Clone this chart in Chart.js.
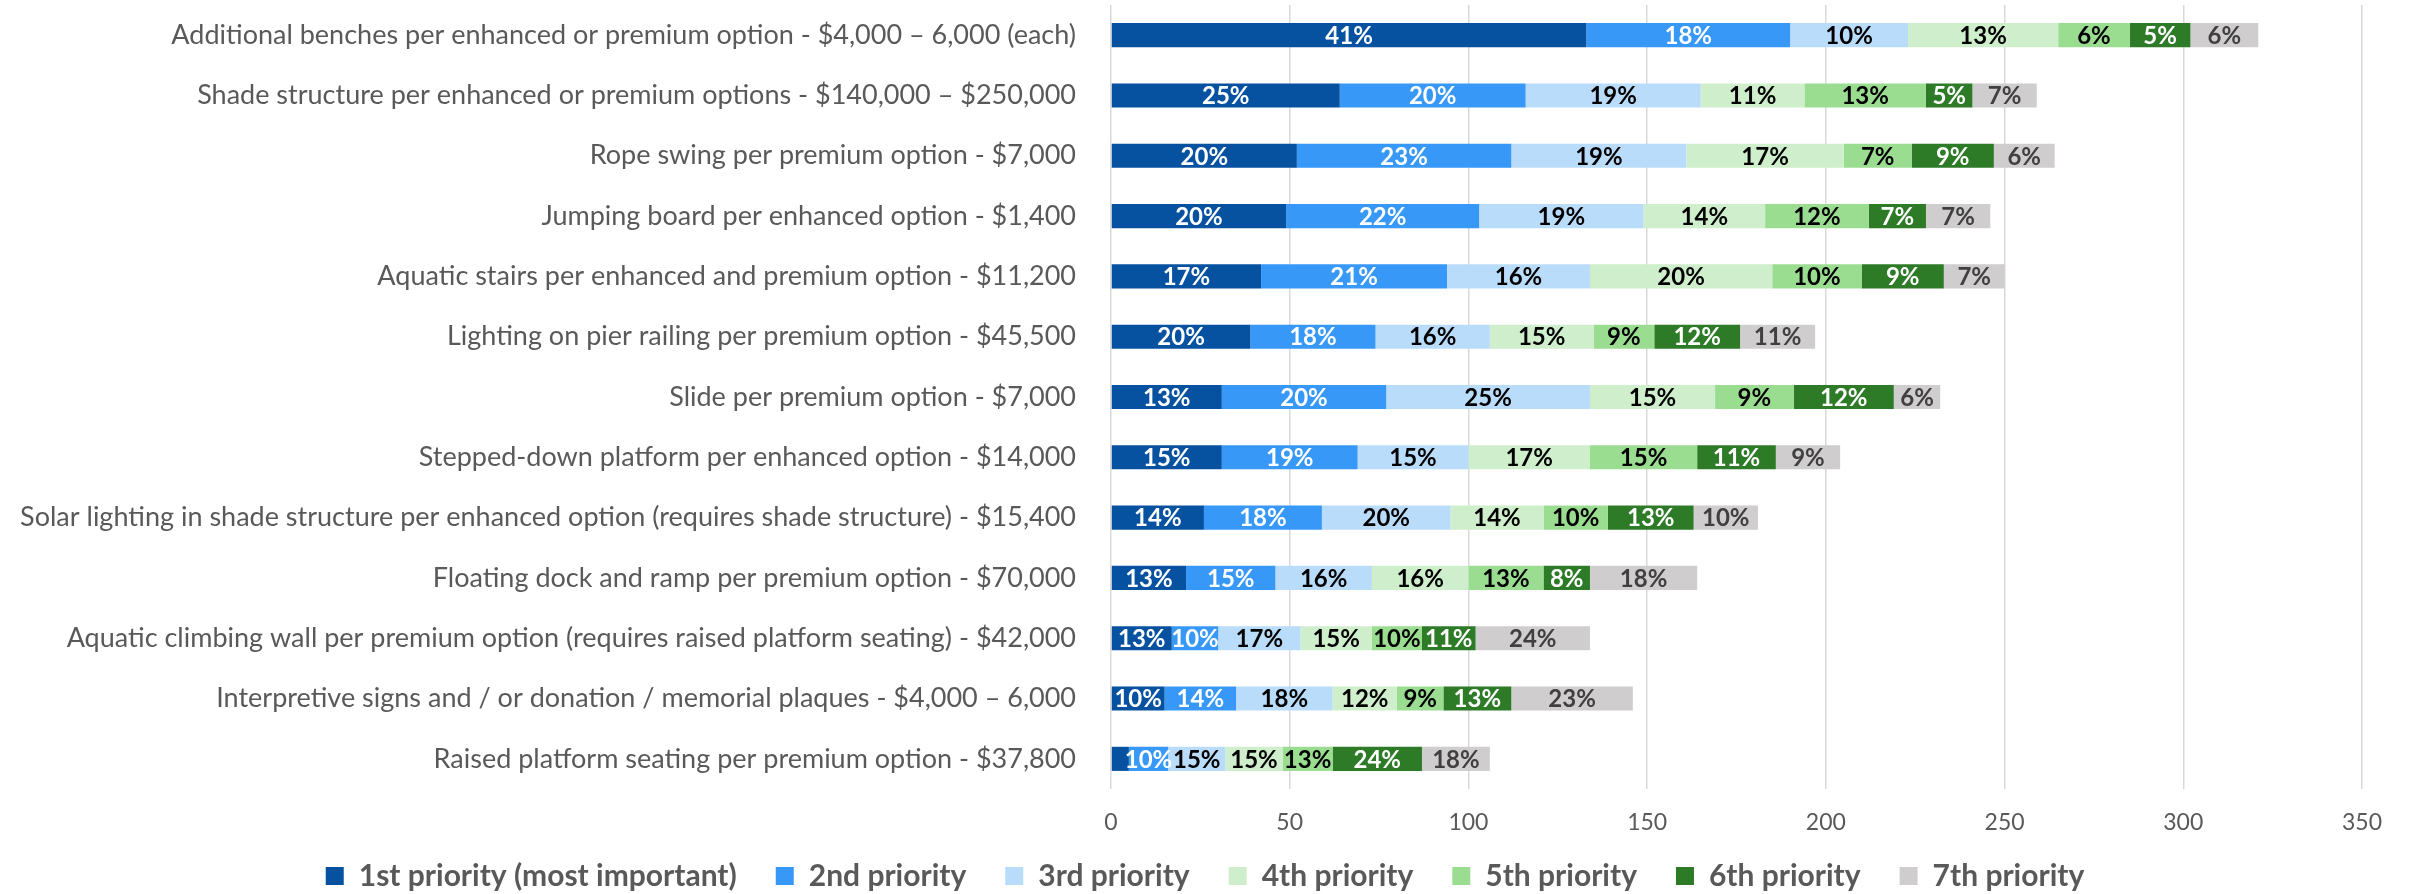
<!DOCTYPE html>
<html>
<head>
<meta charset="utf-8">
<script src="https://cdn.jsdelivr.net/npm/chart.js@4.4.1/dist/chart.umd.min.js"></script>
<style>
  html, body { margin: 0; padding: 0; background: #fff; }
  #wrap { width: 2410px; height: 894px; }
</style>
</head>
<body>
<div id="wrap"><canvas id="chart"></canvas></div>
<script>
// Options, top to bottom
const categories = [
    'Additional benches per enhanced or premium option - $4,000 \u2013 6,000 (each)',
    'Shade structure per enhanced or premium options - $140,000 \u2013 $250,000',
    'Rope swing per premium option - $7,000',
    'Jumping board per enhanced option - $1,400',
    'Aquatic stairs per enhanced and premium option - $11,200',
    'Lighting on pier railing per premium option - $45,500',
    'Slide per premium option - $7,000',
    'Stepped-down platform per enhanced option - $14,000',
    'Solar lighting in shade structure per enhanced option (requires shade structure) - $15,400',
    'Floating dock and ramp per premium option - $70,000',
    'Aquatic climbing wall per premium option (requires raised platform seating) - $42,000',
    'Interpretive signs and / or donation / memorial plaques - $4,000 \u2013 6,000',
    'Raised platform seating per premium option - $37,800'
];

// Number of responses per priority
const priority1 = [133, 64, 52, 49, 42, 39, 31, 31, 26, 21, 17, 15, 5];
const priority2 = [57, 52, 60, 54, 52, 35, 46, 38, 33, 25, 13, 20, 11];
const priority3 = [33, 49, 49, 46, 40, 32, 57, 31, 36, 27, 23, 27, 16];
const priority4 = [42, 29, 44, 34, 51, 29, 35, 34, 26, 27, 20, 18, 16];
const priority5 = [20, 34, 19, 29, 25, 17, 22, 30, 18, 21, 14, 13, 14];
const priority6 = [17, 13, 23, 16, 23, 24, 28, 22, 24, 13, 15, 19, 25];
const priority7 = [19, 18, 17, 18, 17, 21, 13, 18, 18, 30, 32, 34, 19];

const seriesNames = [
    '1st priority (most important)', '2nd priority', '3rd priority',
    '4th priority', '5th priority', '6th priority', '7th priority'
];
const xTicks = [0, 50, 100, 150, 200, 250, 300, 350];

const colors = ['#0652A0', '#3798F8', '#BADCFB', '#CFEECC', '#9ADD91', '#2D7A27', '#CFCDCE'];
const labelColors = ['#ffffff', '#ffffff', '#000000', '#000000', '#000000', '#ffffff', '#404040'];

const allSeries = [priority1, priority2, priority3, priority4, priority5, priority6, priority7];
const totals = categories.map((c, j) => allSeries.reduce((s, arr) => s + arr[j], 0));

// percentage labels inside each segment
const barLabels = {
    id: 'barLabels',
    afterDatasetsDraw(chart) {
        const ctx = chart.ctx;
        ctx.save();
        ctx.font = 'bold 24px Lato';
        ctx.textAlign = 'center';
        ctx.textBaseline = 'middle';
        chart.data.datasets.forEach((ds, i) => {
            const meta = chart.getDatasetMeta(i);
            meta.data.forEach((bar, j) => {
                const share = ds.data[j] / totals[j];
                if (share < 0.05) return;
                ctx.fillStyle = labelColors[i];
                ctx.fillText(Math.round(share * 100) + '%', (bar.x + bar.base) / 2, bar.y + 1);
            });
        });
        ctx.restore();
    }
};

new Chart(document.getElementById('chart'), {
    type: 'bar',
    data: {
        labels: categories,
        datasets: allSeries.map((arr, i) => ({
            label: seriesNames[i],
            data: arr,
            backgroundColor: colors[i],
            borderWidth: 0,
            barPercentage: 0.4,
            categoryPercentage: 1.0
        }))
    },
    options: {
        indexAxis: 'y',
        responsive: true,
        maintainAspectRatio: false,
        animation: false,
        layout: { padding: { left: 0, right: 0, top: 5, bottom: -7 } },
        scales: {
            x: {
                stacked: true,
                min: 0,
                max: 350,
                afterBuildTicks: s => { s.ticks = xTicks.map(v => ({ value: v })); },
                ticks: { color: '#595959', font: { family: 'Lato', size: 23 }, padding: 20 },
                grid: { color: '#D9D9D9', lineWidth: 1.5, drawTicks: false },
                border: { display: false },
                afterFit: s => {
                    s.height = 33;
                    s.paddingRight = 48;
                    // tick labels sit in the legend's top padding, don't clip them
                    s._computeLabelArea = () => undefined;
                }
            },
            y: {
                stacked: true,
                ticks: { color: '#595959', font: { family: 'Lato', size: 27 }, padding: 27 },
                grid: { display: false },
                border: { display: false },
                afterFit: s => {
                    s.width = 1111;
                    s.paddingTop = 0;
                    s.paddingBottom = 0;
                }
            }
        },
        plugins: {
            legend: {
                position: 'bottom',
                labels: {
                    boxWidth: 18,
                    boxHeight: 18,
                    padding: 39,
                    color: '#595959',
                    font: { family: 'Lato', size: 30, weight: 'bold' }
                }
            },
            tooltip: { enabled: false }
        }
    },
    plugins: [barLabels]
});
</script>
</body>
</html>
